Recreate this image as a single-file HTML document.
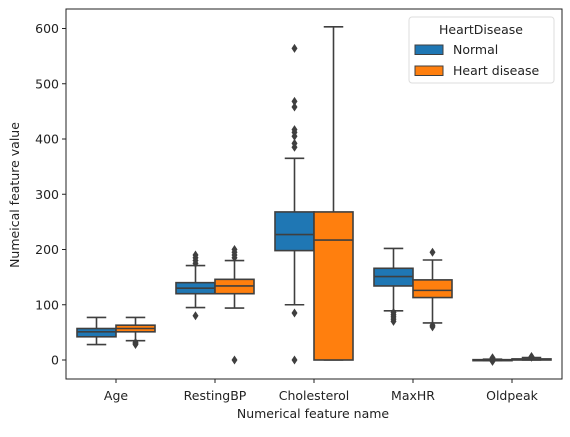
<!DOCTYPE html>
<html><head><meta charset="utf-8"><style>
body{margin:0;background:#fff}
svg text{font-family:"DejaVu Sans","Liberation Sans",sans-serif;fill:#222}
</style></head><body>
<svg id="chart" width="570" height="432" xmlns="http://www.w3.org/2000/svg">
<g id="plot"></g>
</svg>
<script>
const categories=["Age","RestingBP","Cholesterol","MaxHR","Oldpeak"];
const groups=["Normal","Heart disease"];
// [whiskerLow, q1, median, q3, whiskerHigh]
const normalStats=[[28,42,51,57,77],[95,120,130,140,171],[100,198,227,268,365],[89,134,151,166,202],[-1,0,0,0.6,1.5]];
const diseaseStats=[[35,51,57,63,77],[94,120,134,146,180],[0,0,217,268,603],[67,113,126,145,181],[0,0,1.2,2,4.5]];
const normalOutliers=[[],[80,175,180,185,190],[0,85,385,392,405,412,417,458,468,564],[70,74,78,82,86],[-2.6,2,3,4]];
const diseaseOutliers=[[28,30,32],[0,185,190,195,200],[],[60,63,195],[5,6,6.2]];
const yTicks=[0,100,200,300,400,500,600];
const colors=["#1f77b4","#ff7f0e"];
const L=66,R=562,T=9,B=379;
const y=v=>360-v*0.5525;
const xc=i=>116+i*99;
const NS="http://www.w3.org/2000/svg";
const g=document.getElementById('plot');
function el(t,a,p){const e=document.createElementNS(NS,t);for(const k in a)e.setAttribute(k,a[k]);(p||g).appendChild(e);return e;}
yTicks.forEach(v=>{
 const t=el('line',{x1:L-4,x2:L,y1:y(v),y2:y(v),stroke:'#222'});
 
 
 const tx=el('text',{x:L-7,y:y(v)+4.5,'text-anchor':'end','font-size':12.5});
 tx.textContent=v;
 
 
});
categories.forEach((c,i)=>{
 el('line',{x1:xc(i),x2:xc(i),y1:B,y2:B+4,stroke:'#222'});
 const tx=el('text',{x:xc(i),y:400,'text-anchor':'middle','font-size':12.5});
 tx.textContent=c;
 
 
 [normalStats,diseaseStats].forEach((S,gi)=>{
  const s=S[i];const w=39;const x0=xc(i)+(gi===0?-w:0);const cx=x0+w/2;
  const bx=el('g',{});
  
  
  const st={stroke:'#3f3f3f','stroke-width':1.6};
  el('line',Object.assign({x1:cx,x2:cx,y1:y(s[0]),y2:y(s[1])},st),bx);
  el('line',Object.assign({x1:cx,x2:cx,y1:y(s[3]),y2:y(s[4])},st),bx);
  el('line',Object.assign({x1:cx-w/4,x2:cx+w/4,y1:y(s[0]),y2:y(s[0])},st),bx);
  el('line',Object.assign({x1:cx-w/4,x2:cx+w/4,y1:y(s[4]),y2:y(s[4])},st),bx);
  el('rect',Object.assign({x:x0,y:y(s[3]),width:w,height:Math.max(y(s[1])-y(s[3]),1),fill:colors[gi]},st),bx);
  el('line',Object.assign({x1:x0,x2:x0+w,y1:y(s[2]),y2:y(s[2])},st),bx);
  const O=(gi?diseaseOutliers:normalOutliers)[i];
  O.forEach(v=>{
   const d=el('path',{d:`M${cx} ${y(v)-4.5}L${cx+3} ${y(v)}L${cx} ${y(v)+4.5}L${cx-3} ${y(v)}Z`,fill:'#3f3f3f'},bx);
   
   
  });
 });
});
el('rect',{x:L,y:T,width:R-L,height:B-T,fill:'none',stroke:'#222','stroke-width':1});
const yl=el('text',{x:0,y:0,'text-anchor':'middle','font-size':12.5,transform:'translate(19,195) rotate(-90)'});
yl.textContent='Numeical feature value';


const xl=el('text',{x:313,y:418,'text-anchor':'middle','font-size':12.5});
xl.textContent='Numerical feature name';


const lg=el('g',{});


el('rect',{x:409,y:17,width:145,height:66,rx:3,fill:'#fff',stroke:'#ddd'},lg);
const lt=el('text',{x:481,y:34,'text-anchor':'middle','font-size':12.5},lg);
lt.textContent='HeartDisease';
groups.forEach((n,k)=>{
 const e=el('g',{},lg);
 
 
 el('rect',{x:415,y:45+k*21,width:28,height:9.5,fill:colors[k],stroke:'#3f3f3f','stroke-width':1},e);
 const t=el('text',{x:453,y:54+k*21,'font-size':12.5},e);
 t.textContent=n;
});
</script>
</body></html>
